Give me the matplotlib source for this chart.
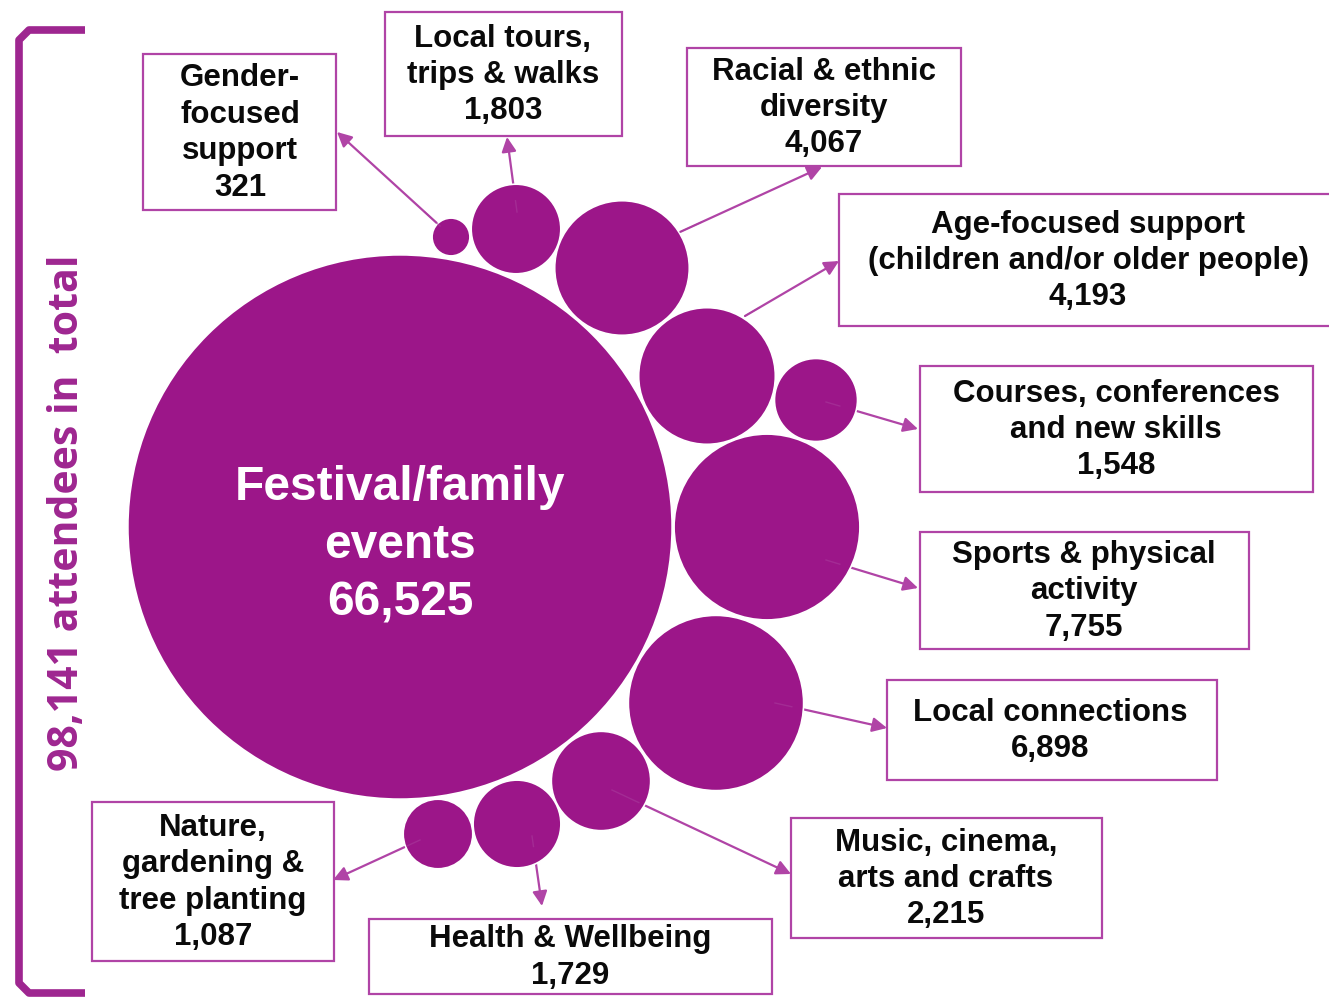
import numpy as np
import matplotlib
matplotlib.use("Agg")
import matplotlib.pyplot as plt
from matplotlib.patches import Circle, Rectangle, FancyArrowPatch

# ---- data ----
main_category = "Festival/family\nevents"
main_value = 66525
total_label = "98,141 attendees in  total"

categories = [
    "Gender-\nfocused\nsupport",
    "Local tours,\ntrips & walks",
    "Racial & ethnic\ndiversity",
    "Age-focused support\n(children and/or older people)",
    "Courses, conferences\nand new skills",
    "Sports & physical\nactivity",
    "Local connections",
    "Music, cinema,\narts and crafts",
    "Health & Wellbeing",
    "Nature,\ngardening &\ntree planting",
]
values = [321, 1803, 4067, 4193, 1548, 7755, 6898, 2215, 1729, 1087]

# ---- layout (pixel space) ----
main_center = (400, 527)
bubble_centers = [(451, 237), (516, 229), (622, 268), (707, 376), (816, 400),
                  (767, 527), (716, 703), (601, 781), (517, 824), (438, 834)]
# boxes: left, top, right, bottom
boxes = [(143, 54, 336, 210), (385, 12, 622, 136), (687, 48, 961, 166),
         (839, 194, 1340, 326), (920, 366, 1313, 492), (920, 532, 1249, 649),
         (887, 680, 1217, 780), (791, 818, 1102, 938), (369, 919, 772, 994),
         (92, 802, 334, 961)]
text_x = [240, 503, 824, 1088, 1116, 1084, 1050, 946, 570, 213]
arrow_from = [(440, 226), (517, 212), (680, 232), (745, 316), (826, 402),
              (826, 560), (775, 703), (612, 790), (532, 836), (420, 840)]
arrow_to = [(337, 132), (507, 137), (822, 167), (839, 261), (918, 429),
            (918, 588), (887, 728), (791, 874), (542, 906), (333, 880)]

scale = 1.055  # pixels per sqrt(attendee)
bubble_color = "#9C1689"
edge_color = "#B044A6"
bracket_color = "#9E2690"

W, H = 1329, 998
fig = plt.figure(figsize=(W / 100, H / 100), dpi=100)
ax = fig.add_axes([0, 0, 1, 1])
ax.set_xlim(0, W)
ax.set_ylim(H, 0)
ax.axis("off")

# arrows (drawn first so bubbles overlay start)
for (x0, y0), (x1, y1) in zip(arrow_from, arrow_to):
    ax.add_patch(FancyArrowPatch((x0, y0), (x1, y1), arrowstyle="-|>",
                                 mutation_scale=22, color=edge_color,
                                 lw=1.6, shrinkA=0, shrinkB=0, zorder=1))

# main bubble
ax.add_patch(Circle(main_center, scale * np.sqrt(main_value), facecolor=bubble_color,
                    edgecolor="white", lw=1.2, zorder=2))
ax.text(main_center[0], main_center[1] + 18, f"{main_category}\n{main_value:,}",
        ha="center", va="center", color="white", fontsize=34.5,
        fontweight="bold", family="Liberation Sans", linespacing=1.36, zorder=5)

# small bubbles
for c, v in zip(bubble_centers, values):
    ax.add_patch(Circle(c, scale * np.sqrt(v), facecolor=bubble_color,
                        edgecolor="white", lw=1.2, zorder=3))

# faint arrow lines inside bubbles
for (x0, y0), (x1, y1) in zip(arrow_from, arrow_to):
    ax.plot([x0, x0 + (x1 - x0) * 0.15], [y0, y0 + (y1 - y0) * 0.15],
            color="#A83A9C", lw=1.0, alpha=0.6, zorder=3.5)

# label boxes
for cat, v, (l, t, r, b), tx in zip(categories, values, boxes, text_x):
    ax.add_patch(Rectangle((l, t), r - l, b - t, facecolor="white",
                           edgecolor=edge_color, lw=1.6, zorder=4))
    ax.text(tx, (t + b) / 2 + 1, f"{cat}\n{v:,}", ha="center", va="center",
            fontsize=22.5, fontweight="bold", family="Liberation Sans",
            color="#0A0A0A", linespacing=1.28, zorder=5)

# bracket
ax.plot([85, 29, 19, 19, 29, 85], [30, 30, 40, 983, 993, 993],
        color=bracket_color, lw=5.5, solid_joinstyle="round",
        solid_capstyle="butt", zorder=2)
ax.text(68, 513, total_label, rotation=90, ha="center", va="center",
        fontsize=29.5, fontweight="bold", family="Open Sans", color=bracket_color)

fig.savefig("out.png", dpi=100)
